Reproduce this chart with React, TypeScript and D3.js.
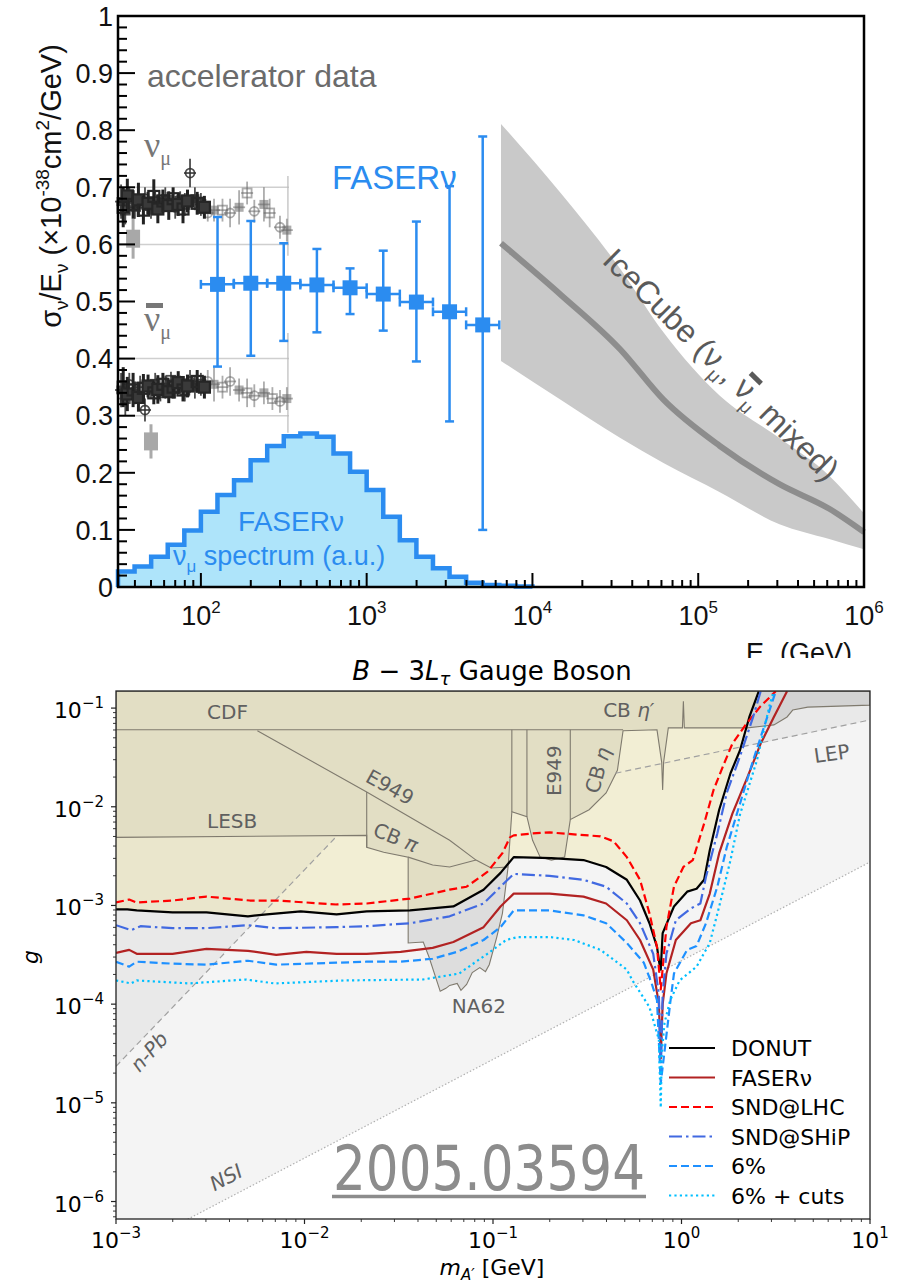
import { useRef, useEffect } from "react";
import * as d3 from "d3";

// ---------------- top panel data ----------------
// FASERnu projected points (E in GeV, sigma/E in 1e-38 cm^2/GeV)
const faserE = [126, 200, 316, 501, 794, 1259, 1995, 3162, 5012];
const faserELo = [100, 158, 251, 398, 631, 1000, 1585, 2512, 3981];
const faserEHi = [158, 251, 398, 631, 1000, 1585, 2512, 3981, 6310];
const faserVal = [0.53, 0.532, 0.532, 0.529, 0.524, 0.513, 0.499, 0.482, 0.459];
const faserHi = [0.648, 0.641, 0.602, 0.592, 0.558, 0.589, 0.64, 0.702, 0.789];
const faserLo = [0.386, 0.405, 0.431, 0.446, 0.478, 0.449, 0.395, 0.29, 0.1];

// FASERnu numu spectrum (a.u.), bin edges in log10(E)
const specEdges = [1.5, 1.6, 1.7, 1.8, 1.9, 2.0, 2.1, 2.2, 2.3, 2.4, 2.5, 2.6, 2.7, 2.8, 2.9, 3.0, 3.1, 3.2, 3.3, 3.4, 3.5, 3.6, 3.7, 3.8, 3.9, 4.0];
const specVal = [0.027, 0.036, 0.053, 0.074, 0.099, 0.132, 0.161, 0.187, 0.222, 0.247, 0.264, 0.269, 0.263, 0.234, 0.202, 0.17, 0.123, 0.082, 0.053, 0.033, 0.018, 0.0075, 0.0035, 0.002, 0.001];

// IceCube band
const iceE = [6460, 14800, 33900, 61700, 135000, 309000, 617000, 1000000];
const iceUp = [0.811, 0.69, 0.557, 0.446, 0.335, 0.261, 0.195, 0.129];
const iceMid = [0.602, 0.512, 0.416, 0.328, 0.247, 0.18, 0.137, 0.096];
const iceLow = [0.396, 0.328, 0.261, 0.217, 0.166, 0.11, 0.084, 0.066];

// accelerator data (light markers)
const accNuE = [33, 35, 37, 40, 43, 46, 50, 53, 57, 61, 66, 70, 75, 80, 86, 92, 100, 110, 120, 135, 150, 170, 190, 210, 240, 260, 300, 330];
const accNuVal = [0.675, 0.66, 0.68, 0.665, 0.672, 0.68, 0.66, 0.675, 0.668, 0.68, 0.672, 0.665, 0.678, 0.67, 0.725, 0.68, 0.67, 0.655, 0.66, 0.66, 0.655, 0.665, 0.69, 0.658, 0.67, 0.655, 0.63, 0.625];
const accNuErr = [0.03, 0.025, 0.02, 0.02, 0.015, 0.02, 0.015, 0.02, 0.015, 0.02, 0.015, 0.02, 0.015, 0.02, 0.025, 0.02, 0.02, 0.015, 0.02, 0.02, 0.025, 0.03, 0.02, 0.02, 0.03, 0.025, 0.02, 0.02];
const accNubarE = [33, 35, 37, 40, 43, 46, 50, 53, 57, 61, 66, 70, 75, 80, 86, 92, 100, 110, 120, 135, 150, 170, 190, 210, 240, 270, 300, 330];
const accNubarVal = [0.345, 0.33, 0.355, 0.34, 0.35, 0.31, 0.345, 0.355, 0.34, 0.35, 0.362, 0.35, 0.355, 0.345, 0.36, 0.35, 0.355, 0.36, 0.355, 0.35, 0.36, 0.345, 0.34, 0.335, 0.34, 0.33, 0.325, 0.33];
const accNubarErr = [0.03, 0.03, 0.02, 0.02, 0.02, 0.02, 0.015, 0.02, 0.015, 0.02, 0.015, 0.02, 0.015, 0.02, 0.02, 0.02, 0.02, 0.02, 0.03, 0.02, 0.025, 0.02, 0.025, 0.02, 0.02, 0.02, 0.02, 0.02];
// accelerator data (dense dark markers, low energy)
const accDarkE = [34, 36, 39, 42, 45, 48, 52, 55, 59, 64, 68, 73, 78, 83, 95, 105];
const accNuDarkVal = [0.665, 0.685, 0.67, 0.678, 0.66, 0.672, 0.684, 0.662, 0.676, 0.668, 0.68, 0.67, 0.662, 0.676, 0.672, 0.665];
const accNuDarkErr = [0.035, 0.03, 0.025, 0.03, 0.025, 0.02, 0.03, 0.025, 0.02, 0.025, 0.02, 0.02, 0.025, 0.02, 0.02, 0.02];
const accNubarDarkVal = [0.35, 0.338, 0.345, 0.332, 0.348, 0.352, 0.34, 0.346, 0.355, 0.342, 0.35, 0.358, 0.345, 0.352, 0.36, 0.35];
const accNubarDarkErr = [0.035, 0.03, 0.03, 0.025, 0.025, 0.02, 0.02, 0.025, 0.02, 0.02, 0.02, 0.02, 0.02, 0.02, 0.02, 0.02];
const accGrayE = [39, 50];
const accGrayVal = [0.61, 0.255];
const accGrayErr = [0.035, 0.03];
const accBands = [0.3, 0.4, 0.6, 0.7];

// ---------------- bottom panel data (log10 m [GeV], log10 g) ----------------
const nsiRegion = [[-3, -6.18], [-2.62, -6.18], [1, -2.56], [1, -0.83], [-3, -0.83]];
const nsiLine = [[-2.62, -6.18], [1, -2.56]];
const npbRegion = [[-3, -4.63], [-1.83, -2.3], [-3, -2.3]];
const npbLine = [[-3, -4.63], [-1.83, -2.3]];
const lepLine = [[-0.35, -1.66], [1, -1.12]];
const lepRegion = [[0.315, -1.4], [1, -1.12], [1, -0.83], [0.41, -0.83], [0.36, -1.09]];
const constraintRegion = [
  [-3, -0.83], [-3, -2.31], [-1.67, -2.29], [-1.67, -2.41], [-1.58, -2.46], [-1.45, -2.51],
  [-1.45, -3.38], [-1.37, -3.37], [-1.34, -3.52], [-1.28, -3.87], [-1.25, -3.84], [-1.23, -3.81],
  [-1.19, -3.79], [-1.17, -3.86], [-1.14, -3.8], [-1.11, -3.68], [-1.07, -3.63], [-1.04, -3.67],
  [-1.02, -3.6], [-0.98, -3.32], [-0.95, -3.08], [-0.92, -2.61], [-0.9, -2.05], [-0.82, -2.1],
  [-0.79, -2.34], [-0.75, -2.51], [-0.69, -2.54], [-0.62, -2.51], [-0.59, -2.13], [-0.49, -2.03],
  [-0.4, -1.86], [-0.34, -1.63], [-0.31, -1.23], [-0.13, -1.22], [-0.105, -1.55], [-0.1, -1.83],
  [-0.095, -1.55], [-0.07, -1.2], [0.005, -1.2], [0.01, -0.93], [0.015, -1.2], [0.35, -1.2],
  [0.49, -1.17], [0.56, -1.09], [0.59, -1.02], [0.67, -0.99], [1, -0.97], [1, -0.83],
];
const cdfLine = [[-3, -1.22], [-0.31, -1.22]];
const e949Diag = [[-2.25, -1.23], [-1.67, -1.85], [-1.23, -2.34], [-1.09, -2.54], [-1.01, -2.62], [-0.92, -2.61]];
const cbPiEdge = [[-1.67, -1.85], [-1.67, -2.41]];
const cbPiBottom = [[-1.45, -2.51], [-1.32, -2.59], [-1.23, -2.61], [-1.09, -2.54]];
const na62Edge = [[-0.9, -2.05], [-0.9, -1.22]];
const e949Left = [[-0.82, -2.1], [-0.82, -1.22]];
const e949Right = [[-0.59, -2.13], [-0.59, -1.22]];

const donutCurve = [
  [-3, -3.04], [-2.94, -3.04], [-2.89, -3.05], [-2.7, -3.07], [-2.52, -3.07], [-2.3, -3.11], [-2.2, -3.09],
  [-2.02, -3.06], [-1.83, -3.09], [-1.67, -3.06], [-1.44, -3.05], [-1.21, -3.01], [-1.05, -2.84], [-0.96, -2.67],
  [-0.89, -2.51], [-0.69, -2.52], [-0.52, -2.54], [-0.4, -2.61], [-0.29, -2.74], [-0.22, -2.95], [-0.17, -3.18],
  [-0.13, -3.42], [-0.118, -3.58], [-0.11, -3.65], [-0.1, -3.28], [-0.04, -3.01], [0.03, -2.86], [0.08, -2.83],
  [0.12, -2.74], [0.15, -2.44], [0.2, -2.03], [0.26, -1.66], [0.31, -1.43], [0.36, -1.09], [0.41, -0.83],
];
const faserCurve = [
  [-3, -3.48], [-2.93, -3.45], [-2.89, -3.49], [-2.7, -3.49], [-2.52, -3.44], [-2.3, -3.46], [-2.15, -3.5],
  [-1.99, -3.47], [-1.83, -3.49], [-1.67, -3.49], [-1.49, -3.47], [-1.32, -3.43], [-1.21, -3.37], [-1.05, -3.22],
  [-0.96, -3.01], [-0.89, -2.88], [-0.7, -2.88], [-0.52, -2.91], [-0.4, -2.98], [-0.29, -3.15], [-0.22, -3.35],
  [-0.15, -3.65], [-0.12, -4.0], [-0.11, -4.55], [-0.1, -4.0], [-0.08, -3.69], [-0.03, -3.35], [0.05, -3.18],
  [0.1, -3.15], [0.15, -2.88], [0.2, -2.47], [0.27, -2.07], [0.35, -1.7], [0.42, -1.36], [0.49, -1.09], [0.56, -0.83],
];
const sndLhcCurve = [
  [-3, -2.97], [-2.93, -2.94], [-2.89, -2.97], [-2.7, -2.95], [-2.52, -2.91], [-2.29, -2.95], [-2.15, -2.95],
  [-1.83, -2.99], [-1.67, -2.98], [-1.44, -2.93], [-1.23, -2.84], [-1.14, -2.81], [-1.03, -2.66], [-0.95, -2.47],
  [-0.91, -2.31], [-0.89, -2.29], [-0.79, -2.27], [-0.7, -2.26], [-0.43, -2.3], [-0.36, -2.35], [-0.29, -2.51],
  [-0.22, -2.74], [-0.17, -3.08], [-0.13, -3.42], [-0.11, -3.85], [-0.08, -3.22], [-0.04, -2.81], [0.01, -2.61],
  [0.06, -2.54], [0.12, -2.17], [0.17, -1.83], [0.22, -1.59], [0.27, -1.36], [0.34, -1.17], [0.42, -0.98], [0.5, -0.83],
];
const sndShipCurve = [
  [-3, -3.2], [-2.92, -3.25], [-2.87, -3.21], [-2.7, -3.23], [-2.52, -3.23], [-2.3, -3.2], [-2.15, -3.23],
  [-1.83, -3.22], [-1.67, -3.21], [-1.44, -3.18], [-1.23, -3.11], [-1.05, -2.98], [-0.96, -2.81], [-0.89, -2.68],
  [-0.7, -2.7], [-0.52, -2.74], [-0.4, -2.81], [-0.29, -2.98], [-0.22, -3.18], [-0.15, -3.49], [-0.12, -3.9],
  [-0.11, -4.7], [-0.1, -3.9], [-0.08, -3.49], [-0.03, -3.15], [0.05, -3.03], [0.1, -2.98], [0.13, -2.71],
  [0.19, -2.27], [0.24, -1.86], [0.31, -1.49], [0.38, -1.09], [0.42, -0.83],
];
const pct6Curve = [
  [-3, -3.57], [-2.93, -3.62], [-2.89, -3.57], [-2.7, -3.59], [-2.52, -3.6], [-2.3, -3.56], [-2.15, -3.6],
  [-1.83, -3.58], [-1.67, -3.57], [-1.49, -3.57], [-1.32, -3.54], [-1.19, -3.47], [-1.05, -3.35], [-0.96, -3.22],
  [-0.89, -3.05], [-0.7, -3.05], [-0.52, -3.1], [-0.4, -3.18], [-0.29, -3.38], [-0.2, -3.58], [-0.16, -3.78],
  [-0.13, -3.96], [-0.11, -4.8], [-0.06, -3.99], [-0.04, -3.69], [0.03, -3.45], [0.08, -3.41], [0.13, -3.18],
  [0.19, -2.81], [0.24, -2.41], [0.31, -1.97], [0.38, -1.53], [0.45, -1.12], [0.5, -0.83],
];
const pct6CutsCurve = [
  [-3, -3.76], [-2.92, -3.79], [-2.89, -3.76], [-2.61, -3.79], [-2.31, -3.75], [-2.16, -3.79], [-1.79, -3.76],
  [-1.37, -3.75], [-1.18, -3.69], [-1.03, -3.49], [-0.93, -3.35], [-0.87, -3.32], [-0.7, -3.32], [-0.57, -3.35],
  [-0.43, -3.45], [-0.29, -3.65], [-0.26, -3.76], [-0.17, -4.03], [-0.12, -4.36], [-0.11, -5.05], [-0.105, -4.5],
  [-0.09, -4.19], [-0.06, -3.96], [-0.01, -3.76], [0.08, -3.62], [0.15, -3.38], [0.2, -3.01], [0.26, -2.54],
  [0.31, -2.08], [0.4, -1.53], [0.47, -0.95], [0.49, -0.83],
];
const curveNames = ["DONUT", "FASERν", "SND@LHC", "SND@SHiP", "6%", "6% + cuts"];

// region labels: text, italic greek suffix, mass, coupling, rotation
const regionLabels = [
  { t: "CDF", gr: "", m: 3.04e-3, g: 0.0783, r: 0, a: "start" },
  { t: "LESB", gr: "", m: 3.04e-3, g: 6.08e-3, r: 0, a: "start" },
  { t: "E949", gr: "", m: 0.0284, g: 0.0158, r: 29, a: "middle" },
  { t: "CB ", gr: "π", m: 0.0305, g: 4.9e-3, r: 22, a: "middle" },
  { t: "NA62", gr: "", m: 0.0605, g: 8.1e-5, r: 0, a: "start" },
  { t: "E949", gr: "", m: 0.211, g: 0.0232, r: -90, a: "middle" },
  { t: "CB ", gr: "η", m: 0.36, g: 0.0235, r: -75, a: "middle" },
  { t: "CB ", gr: "η′", m: 0.384, g: 0.082, r: 0, a: "start" },
  { t: "LEP", gr: "", m: 5.1, g: 0.0277, r: -8, a: "start" },
  { t: "n-Pb", gr: "", m: 1.5e-3, g: 3.3e-5, r: -48, a: "middle" },
  { t: "NSI", gr: "", m: 3.84e-3, g: 1.75e-6, r: -28, a: "middle" },
];

function drawTop(root) {
  const x = d3.scaleLog().domain([10 ** 1.5, 1e6]).range([118, 864]);
  const y = d3.scaleLinear().domain([0, 1]).range([587, 16]);
  const blue = "#2b8cf0";
  const font = "'Liberation Sans', Arial, Helvetica, sans-serif";

  root.append("clipPath").attr("id", "topclip").append("rect").attr("x", 0).attr("y", 0).attr("width", 897).attr("height", 658);
  const g = root.append("g").attr("clip-path", "url(#topclip)");

  // IceCube band
  const band = d3.area().x((d, i) => x(iceE[i])).y0((d, i) => y(iceLow[i])).y1((d, i) => y(iceUp[i])).curve(d3.curveMonotoneX);
  g.append("path").datum(iceE).attr("d", band).attr("fill", "#c9c9c9");
  const mid = d3.line().x((d, i) => x(iceE[i])).y((d, i) => y(iceMid[i])).curve(d3.curveMonotoneX);
  g.append("path").datum(iceE).attr("d", mid).attr("fill", "none").attr("stroke", "#8d8d8d").attr("stroke-width", 6);

  // spectrum histogram
  const steps = [];
  specVal.forEach((v, i) => { steps.push([specEdges[i], v]); steps.push([specEdges[i + 1], v]); });
  g.append("path").datum(steps)
    .attr("d", d3.area().x(d => x(10 ** d[0])).y0(y(0)).y1(d => y(d[1])))
    .attr("fill", "#aee4fa");
  g.append("path").datum([[specEdges[0], 0], ...steps, [specEdges[specEdges.length - 1], 0]])
    .attr("d", d3.line().x(d => x(10 ** d[0])).y(d => y(d[1])))
    .attr("fill", "none").attr("stroke", blue).attr("stroke-width", 4.5).attr("stroke-linejoin", "miter");

  // accelerator data
  const xr = x.range();
  accBands.forEach(b => {
    g.append("line").attr("x1", xr[0]).attr("x2", x(340)).attr("y1", y(b)).attr("y2", y(b))
      .attr("stroke", "#cfcfcf").attr("stroke-width", 1.5);
  });
  g.append("line").attr("x1", x(335)).attr("x2", x(335)).attr("y1", y(0.27)).attr("y2", y(0.445)).attr("stroke", "#bbb").attr("stroke-width", 1.2);
  g.append("line").attr("x1", x(335)).attr("x2", x(335)).attr("y1", y(0.58)).attr("y2", y(0.72)).attr("stroke", "#bbb").attr("stroke-width", 1.2);

  accGrayE.forEach((e, i) => {
    g.append("line").attr("x1", x(e)).attr("x2", x(e)).attr("y1", y(accGrayVal[i] - accGrayErr[i])).attr("y2", y(accGrayVal[i] + accGrayErr[i]))
      .attr("stroke", "#aaa").attr("stroke-width", 3);
    g.append("rect").attr("x", x(e) - 7).attr("y", y(accGrayVal[i]) - 9).attr("width", 14).attr("height", 18).attr("fill", "#a8a8a8");
  });

  const drawAcc = (E, V, Er) => {
    E.forEach((e, i) => {
      const cx = x(e), cy = y(V[i]);
      const col = e < 110 ? "#2f2f2f" : "#6a6a6a";
      const op = e < 110 ? 0.85 : 0.55;
      g.append("line").attr("x1", cx).attr("x2", cx).attr("y1", y(V[i] - Er[i])).attr("y2", y(V[i] + Er[i]))
        .attr("stroke", col).attr("stroke-width", 1.8).attr("opacity", op);
      g.append("line").attr("x1", cx - 6).attr("x2", cx + 6).attr("y1", cy).attr("y2", cy)
        .attr("stroke", col).attr("stroke-width", 1.8).attr("opacity", op);
      const k = i % 3;
      if (k === 0) {
        g.append("rect").attr("x", cx - 4.5).attr("y", cy - 4.5).attr("width", 9).attr("height", 9).attr("fill", col).attr("opacity", op);
      } else if (k === 1) {
        g.append("rect").attr("x", cx - 4.5).attr("y", cy - 4.5).attr("width", 9).attr("height", 9).attr("fill", "none")
          .attr("stroke", col).attr("stroke-width", 1.8).attr("opacity", op);
      } else {
        g.append("circle").attr("cx", cx).attr("cy", cy).attr("r", 4.5).attr("fill", "none")
          .attr("stroke", col).attr("stroke-width", 1.8).attr("opacity", op);
      }
    });
  };
  drawAcc(accNuE, accNuVal, accNuErr);
  drawAcc(accNubarE, accNubarVal, accNubarErr);
  const drawDark = (V, Er) => {
    accDarkE.forEach((e, i) => {
      const cx = x(e), cy = y(V[i]);
      g.append("line").attr("x1", cx).attr("x2", cx).attr("y1", y(V[i] - Er[i])).attr("y2", y(V[i] + Er[i]))
        .attr("stroke", "#222").attr("stroke-width", 3);
      g.append("rect").attr("x", cx - 5.5).attr("y", cy - 5.5).attr("width", 11).attr("height", 11)
        .attr("fill", i % 2 ? "#3a3a3a" : "none").attr("stroke", "#262626").attr("stroke-width", 2.2);
    });
  };
  drawDark(accNuDarkVal, accNuDarkErr);
  drawDark(accNubarDarkVal, accNubarDarkErr);

  // FASERnu points
  faserE.forEach((e, i) => {
    const cx = x(e), cy = y(faserVal[i]);
    g.append("line").attr("x1", cx).attr("x2", cx).attr("y1", y(faserLo[i])).attr("y2", y(faserHi[i])).attr("stroke", blue).attr("stroke-width", 2.5);
    [faserLo[i], faserHi[i]].forEach(v => {
      g.append("line").attr("x1", cx - 4.5).attr("x2", cx + 4.5).attr("y1", y(v)).attr("y2", y(v)).attr("stroke", blue).attr("stroke-width", 2.5);
    });
    g.append("line").attr("x1", x(faserELo[i])).attr("x2", x(faserEHi[i])).attr("y1", cy).attr("y2", cy).attr("stroke", blue).attr("stroke-width", 2.5);
    [faserELo[i], faserEHi[i]].forEach(v => {
      g.append("line").attr("x1", x(v)).attr("x2", x(v)).attr("y1", cy - 4.5).attr("y2", cy + 4.5).attr("stroke", blue).attr("stroke-width", 2.5);
    });
    g.append("rect").attr("x", cx - 7.5).attr("y", cy - 7.5).attr("width", 15).attr("height", 15).attr("fill", blue);
  });

  // frame & axes
  const [x0, x1] = x.range();
  const [yb, yt] = y.range();
  g.append("rect").attr("x", x0).attr("y", yt).attr("width", x1 - x0).attr("height", yb - yt)
    .attr("fill", "none").attr("stroke", "#000").attr("stroke-width", 2.5);
  d3.range(0, 1.0001, 0.02).forEach((v, i) => {
    const major = i % 5 === 0;
    g.append("line").attr("x1", x0).attr("x2", x0 + (major ? 17 : 9)).attr("y1", y(v)).attr("y2", y(v))
      .attr("stroke", "#000").attr("stroke-width", 2);
  });
  d3.range(0, 1.0001, 0.1).forEach(v => {
    g.append("text").attr("x", x0 - 5).attr("y", y(v)).attr("dy", "0.36em").attr("text-anchor", "end")
      .attr("font-family", font).attr("font-size", 27).attr("fill", "#111")
      .text(v < 0.001 ? "0" : v > 0.999 ? "1" : v.toFixed(1));
  });
  [1, 2, 3, 4, 5].forEach(k => {
    for (let m = 1; m < 10; m++) {
      const v = m * 10 ** k;
      if (v < 10 ** 1.5 || v > 1e6) continue;
      g.append("line").attr("x1", x(v)).attr("x2", x(v)).attr("y1", yb).attr("y2", yb - (m === 1 ? 14 : 7))
        .attr("stroke", "#000").attr("stroke-width", 2);
    }
  });
  [2, 3, 4, 5, 6].forEach(k => {
    const t = g.append("text").attr("x", x(10 ** k)).attr("y", 625).attr("text-anchor", "middle")
      .attr("font-family", font).attr("font-size", 27).attr("fill", "#111");
    t.append("tspan").text("10");
    t.append("tspan").attr("font-size", 17).attr("dy", -12).text(String(k));
  });
  const xt = g.append("text").attr("x", 852).attr("y", 662).attr("text-anchor", "end")
    .attr("font-family", font).attr("font-size", 27).attr("fill", "#111");
  xt.append("tspan").text("E");
  xt.append("tspan").attr("font-size", 17).attr("dy", 7).text("ν");
  xt.append("tspan").attr("dy", -7).text(" (GeV)");

  const ytl = g.append("text").attr("transform", "translate(61,186) rotate(-90)").attr("text-anchor", "middle")
    .attr("font-family", font).attr("font-size", 29).attr("fill", "#111");
  ytl.append("tspan").text("σ");
  ytl.append("tspan").attr("font-size", 19).attr("dy", 7).text("ν");
  ytl.append("tspan").attr("dy", -7).text("/E");
  ytl.append("tspan").attr("font-size", 19).attr("dy", 7).text("ν");
  ytl.append("tspan").attr("dy", -7).text(" (×10");
  ytl.append("tspan").attr("font-size", 19).attr("dy", -12).text("-38");
  ytl.append("tspan").attr("dy", 12).text("cm");
  ytl.append("tspan").attr("font-size", 19).attr("dy", -12).text("2");
  ytl.append("tspan").attr("dy", 12).text("/GeV)");

  // labels
  g.append("text").attr("x", 147).attr("y", 87).attr("font-family", font).attr("font-size", 32).attr("fill", "#6b6b6b").text("accelerator data");
  const serif = "'Liberation Serif', 'Times New Roman', serif";
  const nu = g.append("text").attr("x", 144).attr("y", 157).attr("font-family", serif).attr("font-size", 36).attr("fill", "#777");
  nu.append("tspan").text("ν");
  nu.append("tspan").attr("font-size", 20).attr("dy", 8).text("μ");
  const nub = g.append("text").attr("x", 144).attr("y", 331).attr("font-family", serif).attr("font-size", 36).attr("fill", "#777");
  nub.append("tspan").text("ν");
  nub.append("tspan").attr("font-size", 20).attr("dy", 8).text("μ");
  g.append("rect").attr("x", 146).attr("y", 303).attr("width", 17).attr("height", 5).attr("fill", "#777");

  g.append("text").attr("x", 332).attr("y", 189).attr("font-family", font).attr("font-size", 33).attr("fill", blue).text("FASERν");
  g.append("text").attr("x", 291).attr("y", 531).attr("text-anchor", "middle").attr("font-family", font).attr("font-size", 28).attr("fill", blue).text("FASERν");
  const sp = g.append("text").attr("x", 173).attr("y", 565).attr("font-family", font).attr("font-size", 27).attr("fill", blue);
  sp.append("tspan").text("ν");
  sp.append("tspan").attr("font-size", 17).attr("dy", 7).text("μ");
  sp.append("tspan").attr("dy", -7).text(" spectrum (a.u.)");

  const ic = g.append("text").attr("transform", "translate(601,262) rotate(44.5)")
    .attr("font-family", font).attr("font-size", 32).attr("fill", "#5a5a5a");
  ic.append("tspan").text("IceCube (ν");
  ic.append("tspan").attr("font-size", 19).attr("dy", 8).text("μ");
  ic.append("tspan").attr("dy", -8).text(", ");
  const nuBar = ic.append("tspan").text("ν");
  ic.append("tspan").attr("font-size", 19).attr("dy", 8).text("μ");
  ic.append("tspan").attr("dy", -8).text(" mixed)");
  // bar over the anti-neutrino symbol, placed along the rotated baseline
  const textNode = ic.node();
  let along = 184;
  try {
    const idx = "IceCube (νμ, ".length;
    along = textNode.getStartPositionOfChar(idx).x;
  } catch (e) { /* keep estimate */ }
  void nuBar;
  g.append("rect").attr("transform", "translate(601,262) rotate(44.5)").attr("x", along + 1).attr("y", -28)
    .attr("width", 15).attr("height", 5).attr("fill", "#5a5a5a");
}

function drawBottom(root) {
  const x = d3.scaleLog().domain([1e-3, 10]).range([116, 870]);
  const y = d3.scaleLog().domain([6.65e-7, 0.149]).range([1219, 691]);
  const font = "'DejaVu Sans', sans-serif";
  const X = p => x(10 ** p[0]);
  const Y = p => y(10 ** p[1]);
  const line = d3.line().x(X).y(Y);
  const poly = pts => line(pts) + "Z";
  const [x0, x1] = x.range();
  const [yb, yt] = y.range();

  root.append("clipPath").attr("id", "botclip").append("rect").attr("x", x0).attr("y", yt).attr("width", x1 - x0).attr("height", yb - yt);
  const g = root.append("g").attr("clip-path", "url(#botclip)");

  g.append("rect").attr("x", x0).attr("y", yt).attr("width", x1 - x0).attr("height", yb - yt).attr("fill", "#fff");
  g.append("path").attr("d", poly(nsiRegion)).attr("fill", "#000").attr("fill-opacity", 0.045);
  g.append("path").attr("d", poly(npbRegion)).attr("fill", "#000").attr("fill-opacity", 0.045);
  g.append("path").attr("d", poly(lepRegion)).attr("fill", "#000").attr("fill-opacity", 0.045);
  g.append("path").attr("d", poly(constraintRegion)).attr("fill", "#000").attr("fill-opacity", 0.095);

  // DONUT excluded region (above black curve)
  const donutRegion = [...donutCurve, [donutCurve[donutCurve.length - 1][0], -0.83], [-3, -0.83]];
  g.append("path").attr("d", poly(donutRegion)).attr("fill", "rgb(240,225,140)").attr("fill-opacity", 0.3);

  const edge = "#7f7a6e";
  g.append("path").attr("d", poly(constraintRegion)).attr("fill", "none").attr("stroke", edge).attr("stroke-width", 1.1);
  [cdfLine, e949Diag, cbPiEdge, cbPiBottom, na62Edge, e949Left, e949Right].forEach(l => {
    g.append("path").attr("d", line(l)).attr("fill", "none").attr("stroke", edge).attr("stroke-width", 1.1);
  });
  g.append("path").attr("d", line(npbLine)).attr("fill", "none").attr("stroke", "#a0a0a0").attr("stroke-width", 1.2).attr("stroke-dasharray", "6,4");
  g.append("path").attr("d", line(lepLine)).attr("fill", "none").attr("stroke", "#a0a0a0").attr("stroke-width", 1.2).attr("stroke-dasharray", "6,4");
  g.append("path").attr("d", line(nsiLine)).attr("fill", "none").attr("stroke", "#b0b0b0").attr("stroke-width", 1.2).attr("stroke-dasharray", "1.5,2");

  // sensitivity curves
  const curves = [donutCurve, faserCurve, sndLhcCurve, sndShipCurve, pct6Curve, pct6CutsCurve];
  const colors = ["#000000", "#b22222", "#ff0000", "#4169e1", "#1e90ff", "#00bfff"];
  const dashes = [null, null, "8,4", "13,4,2.5,4", "8,4", "2.2,3.2"];
  curves.forEach((c, i) => {
    g.append("path").attr("d", line(c)).attr("fill", "none").attr("stroke", colors[i]).attr("stroke-width", 2.2)
      .attr("stroke-dasharray", dashes[i]).attr("stroke-linejoin", "round");
  });

  regionLabels.forEach(l => {
    const t = g.append("text").attr("transform", `translate(${x(l.m)},${y(l.g)}) rotate(${l.r})`)
      .attr("text-anchor", l.a).attr("dy", l.a === "middle" ? "0.35em" : 0)
      .attr("font-family", font).attr("font-size", 20).attr("fill", "#606060")
      .attr("font-style", l.t === "n-Pb" || l.t === "NSI" ? "italic" : "normal");
    t.append("tspan").text(l.t);
    if (l.gr) t.append("tspan").attr("font-style", "italic").text(l.gr);
  });

  // watermark
  root.append("text").attr("x", 333).attr("y", 1190).attr("font-family", font).attr("font-size", 62)
    .attr("textLength", 312).attr("lengthAdjust", "spacingAndGlyphs").attr("fill", "#8c8c8c").text("2005.03594");
  root.append("line").attr("x1", 332).attr("x2", 646).attr("y1", 1196.5).attr("y2", 1196.5).attr("stroke", "#8c8c8c").attr("stroke-width", 3.5);

  // frame, ticks
  root.append("rect").attr("x", x0).attr("y", yt).attr("width", x1 - x0).attr("height", yb - yt)
    .attr("fill", "none").attr("stroke", "#222").attr("stroke-width", 1.3);
  for (let k = -3; k <= 1; k++) {
    for (let m = 1; m < 10; m++) {
      const v = m * 10 ** k;
      if (v > 10.0001) continue;
      root.append("line").attr("x1", x(v)).attr("x2", x(v)).attr("y1", yb).attr("y2", yb + (m === 1 ? 5 : 3)).attr("stroke", "#222").attr("stroke-width", m === 1 ? 1.2 : 0.9);
    }
    const t = root.append("text").attr("x", x(10 ** k)).attr("y", 1248).attr("text-anchor", "middle")
      .attr("font-family", font).attr("font-size", 22).attr("fill", "#000");
    t.append("tspan").text("10");
    t.append("tspan").attr("font-size", 15).attr("dy", -10).text(k < 0 ? "−" + -k : String(k));
  }
  for (let k = -7; k <= -1; k++) {
    for (let m = 1; m < 10; m++) {
      const v = m * 10 ** k;
      if (v < 6.65e-7 || v > 0.149) continue;
      root.append("line").attr("x1", x0).attr("x2", x0 - (m === 1 ? 5 : 3)).attr("y1", y(v)).attr("y2", y(v)).attr("stroke", "#222").attr("stroke-width", m === 1 ? 1.2 : 0.9);
    }
    if (k >= -6) {
      const t = root.append("text").attr("x", 104).attr("y", y(10 ** k) + 10).attr("text-anchor", "end")
        .attr("font-family", font).attr("font-size", 22).attr("fill", "#000");
      t.append("tspan").text("10");
      t.append("tspan").attr("font-size", 15).attr("dy", -10).text("−" + -k);
    }
  }
  root.append("text").attr("transform", "translate(38,957) rotate(-90)").attr("text-anchor", "middle")
    .attr("font-family", font).attr("font-size", 22).attr("font-style", "italic").text("g");
  const xl = root.append("text").attr("x", 492).attr("y", 1275).attr("text-anchor", "middle")
    .attr("font-family", font).attr("font-size", 22);
  xl.append("tspan").attr("font-style", "italic").text("m");
  xl.append("tspan").attr("font-style", "italic").attr("font-size", 15).attr("dy", 5).text("A′");
  xl.append("tspan").attr("dy", -5).text(" [GeV]");
  const ti = root.append("text").attr("x", 492).attr("y", 680).attr("text-anchor", "middle")
    .attr("font-family", font).attr("font-size", 26);
  ti.append("tspan").attr("font-style", "italic").text("B");
  ti.append("tspan").text(" − 3");
  ti.append("tspan").attr("font-style", "italic").text("L");
  ti.append("tspan").attr("font-style", "italic").attr("font-size", 18).attr("dy", 5).text("τ");
  ti.append("tspan").attr("dy", -5).text(" Gauge Boson");

  // legend
  curveNames.forEach((name, i) => {
    const cy = 1048 + i * 29.5;
    root.append("line").attr("x1", 669).attr("x2", 715).attr("y1", cy).attr("y2", cy)
      .attr("stroke", colors[i]).attr("stroke-width", 2.2).attr("stroke-dasharray", dashes[i]);
    root.append("text").attr("x", 731).attr("y", cy + 8).attr("font-family", font).attr("font-size", 22).attr("fill", "#000").text(name);
  });
}

function drawChart(svgRef) {
  const svg = d3.select(svgRef.current);
  svg.selectAll("*").remove();
  svg.append("rect").attr("width", 897).attr("height", 1284).attr("fill", "#fff");
  drawTop(svg);
  drawBottom(svg);
}

export default function App() {
  const svg = useRef(null);
  useEffect(() => {
    document.body.style.margin = "0";
    drawChart(svg);
  }, [svg]);
  return <svg ref={svg} width={897} height={1284} style={{ display: "block" }} />;
}
